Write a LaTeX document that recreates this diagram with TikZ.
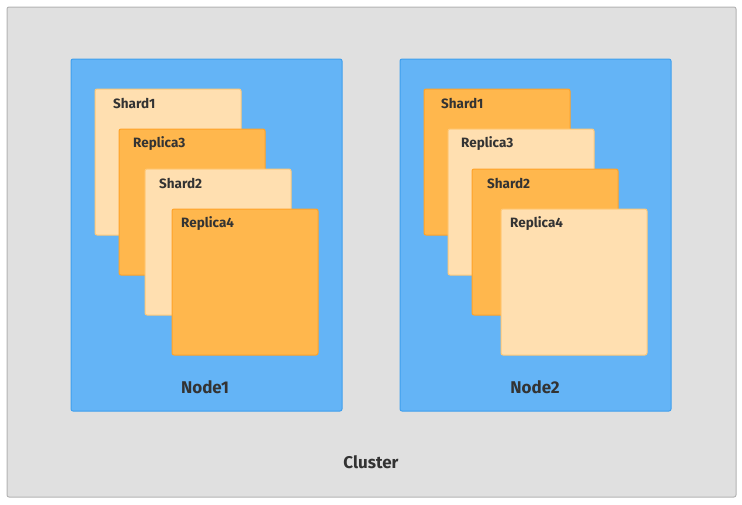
\documentclass[tikz,border=0pt]{standalone}
\usepackage{fontspec}
\setmainfont{Fira Sans}
\definecolor{clfill}{HTML}{E0E0E0}
\definecolor{cldraw}{HTML}{B3B3B3}
\definecolor{ndfill}{HTML}{64B4F6}
\definecolor{nddraw}{HTML}{3F9FEE}
\definecolor{ltfill}{HTML}{FFDFB0}
\definecolor{ltdraw}{HTML}{FFC978}
\definecolor{dkfill}{HTML}{FFB74D}
\definecolor{dkdraw}{HTML}{FFA328}
\definecolor{txt}{HTML}{333333}
\begin{document}
\begin{tikzpicture}[x=1pt,y=-1pt,
  box/.style={anchor=north west,inner sep=0pt,outer sep=0pt,rounded corners=2pt,line width=1pt},
  clusterbox/.style={box,fill=clfill,draw=cldraw,minimum width=729pt,minimum height=490pt},
  nodebox/.style={box,fill=ndfill,draw=nddraw,minimum width=271pt,minimum height=352pt},
  card/.style={box,minimum width=146pt,minimum height=146pt},
  light/.style={card,fill=ltfill,draw=ltdraw},
  dark/.style={card,fill=dkfill,draw=dkdraw},
  cardlabel/.style={anchor=west,text=txt,font=\fontsize{13.5}{15}\selectfont\bfseries,inner sep=0pt},
  biglabel/.style={text=txt,font=\fontsize{17}{19}\selectfont\bfseries,inner sep=0pt}
]
\useasboundingbox (0,0) rectangle (742,504);
\node[clusterbox] (cluster) at (7,7) {};
\node[biglabel] (clusterlbl) at (371,462) {Cluster};

% Node1
\node[nodebox] (n1) at (71,59) {};
\node[light] (n1s1) at (95,89) {};
\node[cardlabel] at ([xshift=18pt,yshift=-14.5pt]n1s1.north west) {Shard1};
\node[dark] (n1r3) at (119,129) {};
\node[cardlabel] at ([xshift=14pt,yshift=-14.5pt]n1r3.north west) {Replica3};
\node[light] (n1s2) at (145,169) {};
\node[cardlabel] at ([xshift=14pt,yshift=-14.5pt]n1s2.north west) {Shard2};
\node[dark] (n1r4) at (172,209) {};
\node[cardlabel] at ([xshift=9pt,yshift=-14.5pt]n1r4.north west) {Replica4};
\node[biglabel] (n1lbl) at (205,387) {Node1};

% Node2
\node[nodebox] (n2) at (400,59) {};
\node[dark] (n2s1) at (424,89) {};
\node[cardlabel] at ([xshift=17pt,yshift=-14.5pt]n2s1.north west) {Shard1};
\node[light] (n2r3) at (448,129) {};
\node[cardlabel] at ([xshift=13pt,yshift=-14.5pt]n2r3.north west) {Replica3};
\node[dark] (n2s2) at (472,169) {};
\node[cardlabel] at ([xshift=15pt,yshift=-14.5pt]n2s2.north west) {Shard2};
\node[light] (n2r4) at (501,209) {};
\node[cardlabel] at ([xshift=9pt,yshift=-14.5pt]n2r4.north west) {Replica4};
\node[biglabel] (n2lbl) at (535,387) {Node2};
\end{tikzpicture}
\end{document}
